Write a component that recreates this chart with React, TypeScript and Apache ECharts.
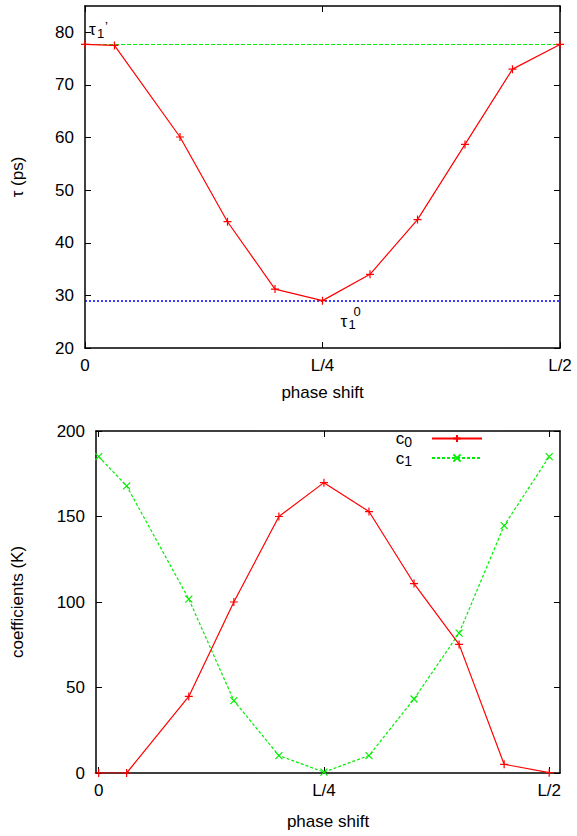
import React, { useEffect, useRef } from 'react';
import * as echarts from 'echarts';

// phase shift positions (fraction of L)
const phase = [0, 0.031, 0.1, 0.15, 0.2, 0.25, 0.3, 0.35, 0.4, 0.45, 0.5];
// top panel: tau (ps)
const tau = [77.7, 77.5, 60.1, 44.0, 31.2, 29.0, 34.0, 44.4, 58.7, 73.0, 77.7];
const tauPrime = 77.7;
const tauZero = 29.0;
// bottom panel: coefficients (K)
const c0 = [0, 0, 44.8, 100, 150, 169.8, 152.9, 110.8, 75.2, 5.1, 0.2];
const c1 = [185, 167.9, 101.7, 42.3, 10.2, 0.5, 10.2, 43.3, 81.8, 144.7, 185];
// ticks
const xTickValues = [0, 0.25, 0.5];
const xTickLabels = ['0', 'L/4', 'L/2'];
const tauTicks = [20, 30, 40, 50, 60, 70, 80];
const coefTicks = [0, 50, 100, 150, 200];

const FONT = "'Liberation Sans', Arial, Helvetica, sans-serif";
const FS = 17;
const RED = '#ff0000';
const GREEN = '#00ee00';
const BLUE = '#0000ff';
const PLUS = 'path://M0,5L10,5M5,0L5,10';
const CROSS = 'path://M0,0L10,10M10,0L0,10';

export default function App() {
  const ref = useRef<HTMLDivElement>(null);
  useEffect(() => {
    const chart = echarts.init(ref.current!, null, { renderer: 'svg' });
    const axisLine = { show: true, onZero: false, lineStyle: { color: '#000', width: 1.5 } };
    const textStyle = { fontFamily: FONT, fontSize: FS, color: '#000' };

    const xAxis = (grid: number, min: number, max: number, gap: number, main: boolean) => ({
      type: 'value', gridIndex: grid, min, max, position: main ? 'bottom' : 'top',
      name: main ? 'phase shift' : '', nameLocation: 'middle', nameGap: gap,
      nameTextStyle: textStyle,
      axisLine,
      axisTick: { show: true, inside: true, length: 6, customValues: xTickValues, lineStyle: { color: '#000', width: 1 } },
      axisLabel: {
        show: main, customValues: xTickValues, margin: 9, ...textStyle,
        formatter: (v: number) => { const i = xTickValues.indexOf(v); return i >= 0 ? xTickLabels[i] : ''; },
      },
      splitLine: { show: false },
    });
    const yAxis = (grid: number, min: number, max: number, ticks: number[], name: string, gap: number, main: boolean) => ({
      type: 'value', gridIndex: grid, min, max, position: main ? 'left' : 'right',
      name: main ? name : '', nameLocation: 'middle', nameGap: gap, nameRotate: 90,
      nameTextStyle: textStyle,
      axisLine,
      axisTick: { show: true, inside: true, length: 6, customValues: ticks, lineStyle: { color: '#000', width: 1 } },
      axisLabel: { show: main, customValues: ticks, margin: 11, ...textStyle },
      splitLine: { show: false },
    });

    const option: any = {
      animation: false,
      backgroundColor: '#fff',
      grid: [
        { left: 85, top: 6, width: 475, height: 342 },
        { left: 96, top: 431, width: 464, height: 342 },
      ],
      xAxis: [
        xAxis(0, 0, 0.5, 36, true),
        xAxis(0, 0, 0.5, 0, false),
        xAxis(1, -0.003, 0.512, 40, true),
        xAxis(1, -0.003, 0.512, 0, false),
      ],
      yAxis: [
        yAxis(0, 20, 85, tauTicks, 'τ (ps)', 59, true),
        yAxis(0, 20, 85, tauTicks, '', 0, false),
        yAxis(1, 0, 200, coefTicks, 'coefficients (K)', 70, true),
        yAxis(1, 0, 200, coefTicks, '', 0, false),
      ],
      legend: {
        data: ['c0', 'c1'],
        orient: 'vertical',
        align: 'right',
        right: 94,
        top: 430,
        padding: 0,
        itemWidth: 50,
        itemHeight: 9,
        itemGap: 1,
        selectedMode: false,
        formatter: (name: string) => `{c|${name.charAt(0)}}{s|${name.slice(1)}}`,
        textStyle: {
          fontFamily: FONT, color: '#000',
          rich: {
            c: { fontFamily: FONT, fontSize: FS, color: '#000', lineHeight: 20 },
            s: { fontFamily: FONT, fontSize: 14, color: '#000', verticalAlign: 'bottom', lineHeight: 10, padding: [0, 15, 0, 0] },
          },
        },
      },
      series: [
        {
          type: 'line', name: 'tau', xAxisIndex: 0, yAxisIndex: 0,
          data: phase.map((x, i) => [x, tau[i]]),
          symbol: PLUS, symbolSize: 8,
          lineStyle: { color: RED, width: 1.2 },
          itemStyle: { color: RED, borderColor: RED, borderWidth: 1.2 },
          z: 5,
          markLine: {
            silent: true, symbol: 'none', label: { show: false }, z: 3,
            data: [
              { yAxis: tauPrime, lineStyle: { color: GREEN, type: [4, 2], width: 1 } },
              { yAxis: tauZero, lineStyle: { color: BLUE, type: [2, 2], width: 1.5 } },
            ],
          },
        },
        {
          type: 'line', name: 'c0', xAxisIndex: 2, yAxisIndex: 2,
          data: phase.map((x, i) => [x, c0[i]]),
          symbol: PLUS, symbolSize: 8,
          lineStyle: { color: RED, width: 1.2 },
          itemStyle: { color: RED, borderColor: RED, borderWidth: 1.2 },
          z: 5,
        },
        {
          type: 'line', name: 'c1', xAxisIndex: 2, yAxisIndex: 2,
          data: phase.map((x, i) => [x, c1[i]]),
          symbol: CROSS, symbolSize: 7,
          lineStyle: { color: GREEN, width: 1.2, type: [3, 2] },
          itemStyle: { color: GREEN, borderColor: GREEN, borderWidth: 1.2 },
          z: 4,
        },
      ],
    };
    chart.setOption(option);

    const p1 = chart.convertToPixel({ xAxisIndex: 0, yAxisIndex: 0 }, [0, 80]) as number[];
    const p2 = chart.convertToPixel({ xAxisIndex: 0, yAxisIndex: 0 }, [0.25, tauZero]) as number[];
    const t = (text: string, x: number, y: number, size: number) => ({
      type: 'text', x, y, silent: true,
      style: { text, fontFamily: FONT, fontSize: size, fill: '#000', align: 'left', verticalAlign: 'middle' },
    });
    chart.setOption({
      graphic: [
        t('τ', p1[0] + 4, p1[1] - 3, FS),
        t('1', p1[0] + 12, p1[1] + 1, 13),
        t('\u2019', p1[0] + 20, p1[1] - 6, 13),
        t('τ', p2[0] + 18, p2[1] + 21, FS),
        t('1', p2[0] + 26, p2[1] + 24, 13),
        t('0', p2[0] + 31, p2[1] + 11, 13),
      ],
    });

    return () => chart.dispose();
  }, []);
  return <div ref={ref} style={{ position: 'fixed', left: 0, top: 0, width: 577, height: 836 }} />;
}
